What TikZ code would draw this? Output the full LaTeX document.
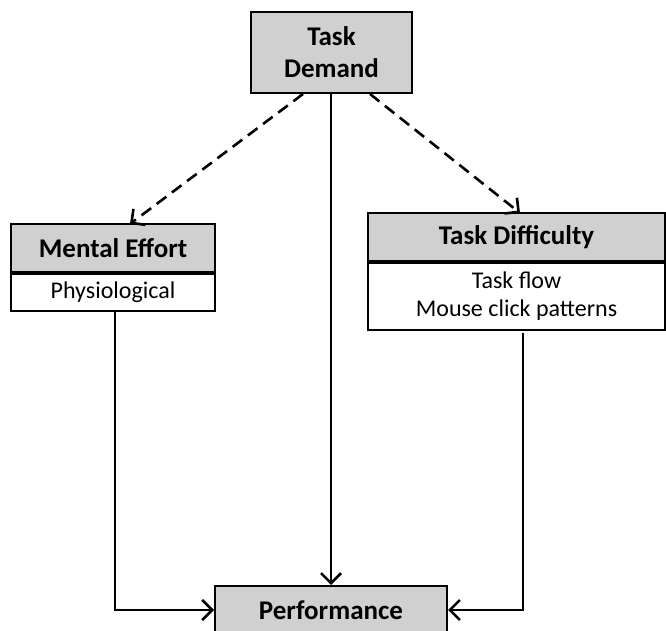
\documentclass[tikz,border=0pt]{standalone}
\usepackage{fontspec}
\setmainfont{Carlito}
\usetikzlibrary{arrows.meta}
\begin{document}
\begin{tikzpicture}[x=1pt,y=1pt,
  hdr/.style={draw=black,line width=2pt,fill=boxgray,minimum width=#1,inner sep=0pt,font=\fontsize{27}{32}\selectfont\bfseries,align=center},
  body/.style={draw=black,line width=2pt,fill=white,minimum width=#1,inner sep=0pt,font=\fontsize{24}{28}\selectfont,align=center},
  conn/.style={line width=2.6pt,-{Straight Barb[length=10pt,width=20pt,line width=2.6pt]}},
  dconn/.style={conn,dash pattern=on 12pt off 7pt}
]
\definecolor{boxgray}{RGB}{208,208,208}
\useasboundingbox (0,0) rectangle (666,631);
\begin{scope}
\clip (0,0) rectangle (666,631);
\node[hdr=161pt,minimum height=81pt] (demand) at (331.5,578.5) {Task\\Demand};
\node[hdr=204pt,minimum height=48pt] (mental) at (113,383) {Mental Effort};
\node[body=204pt,minimum height=37pt,anchor=north] (mentalb) at (mental.south) {Physiological};
\node[hdr=297pt,minimum height=48pt] (diff) at (516.5,394) {Task Difficulty};
\node[body=297pt,minimum height=67pt,anchor=north] (diffb) at (diff.south) {Task flow\\Mouse click patterns};
\node[hdr=232pt,minimum height=48pt] (perf) at (331,21) {Performance};
\end{scope}
\coordinate (mcorner) at (115,21);
\coordinate (dcorner) at (523,21);
\coordinate (dstart) at (523,298);
\draw[conn] (demand.south -| perf.north) -- (perf.north);
\draw[dconn] ([xshift=-28.5pt]demand.south) -- (130,407);
\draw[dconn] ([xshift=38.5pt]demand.south) -- (520,418);
\draw[conn] (mentalb.south -| mcorner) -- (mcorner) -- (perf.west);
\draw[conn] (dstart) -- (dcorner) -- (perf.east);
\end{tikzpicture}
\end{document}
